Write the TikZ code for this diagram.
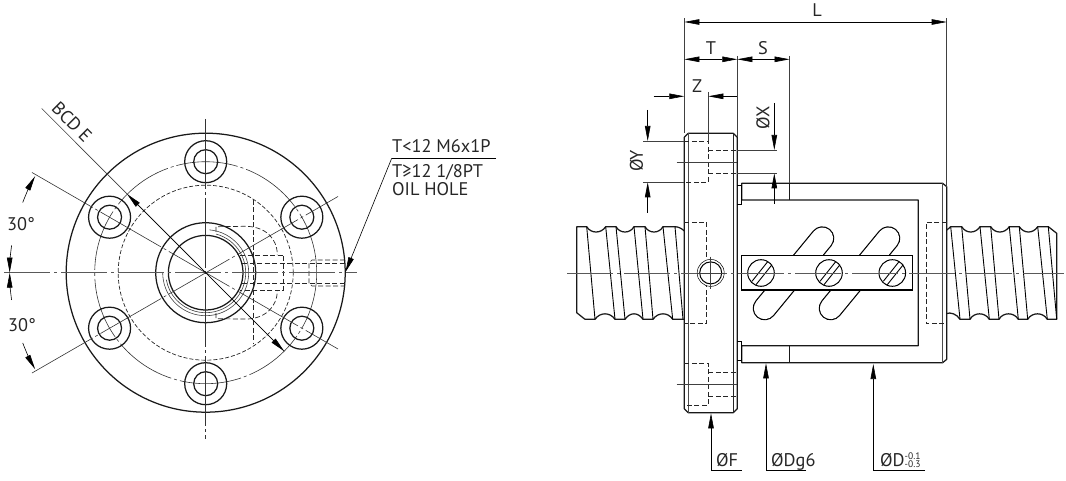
\documentclass[tikz,border=0pt]{standalone}
\usepackage{fontspec}
\setmainfont{PT Sans}
\usetikzlibrary{arrows.meta,calc}
\tikzset{
  x=1pt,y=-1pt,
  bold/.style={line width=1.25pt,black!90,line join=round},
  thinl/.style={line width=0.6pt,black!75},
  hid/.style={line width=0.7pt,black!85,dash pattern=on 5pt off 2.5pt},
  ctr/.style={line width=0.7pt,black!65,dash pattern=on 46pt off 4pt on 3pt off 4pt},
  rad/.style={line width=0.6pt,black!80,dash pattern=on 70pt off 3pt on 3pt off 3pt},
  bcd/.style={line width=0.6pt,black!80,dash pattern=on 62pt off 3pt on 3pt off 3pt},
  tip/.style={-{Triangle[length=15pt,width=5.5pt]}},
  pit/.style={{Triangle[length=15pt,width=5.5pt]}-},
  tiptip/.style={{Triangle[length=15pt,width=5.5pt]}-{Triangle[length=15pt,width=5.5pt]}},
  lab/.style={font=\fontsize{18.3}{20}\selectfont,inner sep=0pt,text=black!85},
}
\begin{document}
\begin{tikzpicture}
\useasboundingbox (0,0) rectangle (1066,481);
\coordinate (lc) at (205.7,272.7);
%% ---------- LEFT VIEW ----------
\draw[bold] (lc) circle (139.5pt);
\draw[bold] (lc) circle (50pt);
\draw[bold] (lc) circle (37.3pt);
\draw[bcd] (lc) circle (111pt);
\draw[line width=0.7pt,black!85,dash pattern=on 4pt off 2pt] (lc) circle (87.5pt);
\foreach \a in {90,150,210,270,330,30}{
  \draw[bold] ([shift={(\a:111pt)}]lc) circle (21pt);
  \draw[bold] ([shift={(\a:111pt)}]lc) circle (12pt);
}
% thin inner arcs
\draw[thinl] ([shift={(85:43pt)}]lc) arc[start angle=85,end angle=-180,radius=43pt];
\draw[thinl] ([shift={(75:40pt)}]lc) arc[start angle=75,end angle=-170,radius=40pt];
% hidden lines
\draw[hid] (216,232) -- (216,226.7) -- (245,226.3) .. controls (265,226.3) and (277.3,238) .. (277.3,255);
\draw[hid] (216,313) -- (216,318.7) -- (245,319.1) .. controls (265,319.1) and (277.3,307) .. (277.3,290.4);
\draw[hid] (240,255) -- (283.5,255) -- (283.5,290.4) -- (240,290.4);
\draw[hid] (242,263.3) -- (345,263.3);
\draw[hid] (242,283.3) -- (345,283.3);
\draw[hid] (253.3,200) -- (253.3,343);
\draw[hid] (345,260) -- (312,260) -- (309,263) -- (309,283) -- (312,286) -- (345,286);
% centre and radial lines
\draw[ctr] (4,272.7) -- (357,272.7);
\draw[rad] (205.7,119) -- (205.7,439);
\draw[rad] (32,172.5) -- (338,349);
\draw[rad] (32,373) -- (338,196.5);
% dimension BCD
\coordinate (bcdA) at ($(lc)+(135:111pt)$);
\coordinate (bcdB) at ($(lc)+(-45:111pt)$);
\draw[thinl] (41.7,108.5) -- (bcdB);
\draw[tip,thinl,black] (lc) -- (bcdA);
\draw[tip,thinl,black] (lc) -- (bcdB);
\node[lab,rotate=-45] (bcdtxt) at (72,122) {BCD E};
% 30 deg dims
\draw[tip,thinl,black] ([shift={(159:196pt)}]lc) arc[start angle=159,end angle=150.5,radius=196pt];
\draw[tip,thinl,black] ([shift={(172:196pt)}]lc) arc[start angle=172,end angle=180,radius=196pt];
\draw[tip,thinl,black] ([shift={(188:196pt)}]lc) arc[start angle=188,end angle=180,radius=196pt];
\draw[tip,thinl,black] ([shift={(201:196pt)}]lc) arc[start angle=201,end angle=209.5,radius=196pt];
\node[lab] (a30) at (21,224) {30°};
\node[lab] (b30) at (22,325) {30°};
% leader oil hole
\coordinate (lead) at (391.7,158.3);
\coordinate (leadend) at (496,158.3);
\coordinate (leadtip) at (345.5,272);
\draw[thinl,black] (leadend) -- (lead);
\draw[tip,thinl,black] (lead) -- (leadtip);
\node[lab,anchor=base west] (t1) at (392,152.5) {T<12 M6x1P};
\node[lab,anchor=base west] (t2) at (392,177.5) {T≥12 1/8PT};
\node[lab,anchor=base west] (t3) at (392,196) {OIL HOLE};
%% ---------- RIGHT VIEW ----------
% left thread
\draw[bold] (684.3,231) .. controls (682,228.5) and (678,226.7) .. (675,226.7) -- (663,226.7)
  .. controls (659,233.8) and (649,233.8) .. (645,226.7) -- (634,226.7)
  .. controls (630,233.8) and (620,233.8) .. (616,226.7) -- (605.7,226.7)
  .. controls (601,233.8) and (591,233.8) .. (586.7,226.7) -- (576.7,226.7) -- (576.7,312.7) -- (585,319.3) -- (595,319.3)
  .. controls (600,312) and (610,312) .. (615,319.3) -- (625,319.3)
  .. controls (630,312) and (638,312) .. (643,319.3) -- (653,319.3)
  .. controls (658,312) and (668,312) .. (672.7,319.3) -- (684.3,319.3);
\foreach \p/\q in {586.7/595,605.7/615,616/625,634/643,645/653,663/672.7,675/683}{
  \draw[line width=0.9pt,black] (\p,226.7) -- (\q,319.3);
}
% right thread
\draw[bold] (946.9,230) -- (950.7,226.7) -- (961.7,226.7)
  .. controls (966,233.8) and (975.5,233.8) .. (980,226.7) -- (990.7,226.7)
  .. controls (995,233.8) and (1004.5,233.8) .. (1009.3,226.7) -- (1019.3,226.7)
  .. controls (1024,233.8) and (1033,233.8) .. (1037.7,226.7) -- (1048.3,226.7)
  -- (1056.7,233.3) -- (1056.7,319.3) -- (1047.3,319.3)
  .. controls (1043,312) and (1032,312) .. (1027.7,319.3) -- (1018.3,319.3)
  .. controls (1014,312) and (1003,312) .. (999,319.3) -- (989.3,319.3)
  .. controls (985,312) and (974,312) .. (970,319.3) -- (960,319.3)
  .. controls (957,314) and (950,312) .. (946.9,313.5);
\foreach \p/\q in {950.7/960,961.7/970,980/989.3,990.7/999,1009.3/1018.3,1019.3/1027.7,1037.7/1047.3,1048.3/1056.7}{
  \draw[line width=0.9pt,black] (\p,226.7) -- (\q,319.3);
}
% flange
\draw[bold] (684.3,137.3) -- (688.3,133.3) -- (733.3,133.3) -- (737.3,137.3) -- (737.3,408.7) -- (733.3,412.7) -- (688.3,412.7) -- (684.3,408.7) -- cycle;
\draw[line width=0.8pt,black!70] (688.3,133.3) -- (688.3,412.7);
\draw[line width=0.8pt,black!85] (732.9,133.3) -- (732.9,412.7);
% nut
\draw[bold] (741.7,183.3) -- (942.7,183.3) -- (946.7,186.7) -- (946.7,359.3) -- (942.7,362.7) -- (741.7,362.7) -- (741.7,345.7) -- (918.3,345.7) -- (918.3,200) -- (741.7,200) -- cycle;
\draw[line width=0.8pt,black!70] (942.2,183.3) -- (942.2,362.7);
\draw[bold,line width=0.9pt] (789.5,183.3) -- (789.5,200);
\draw[bold,line width=0.9pt] (789.5,345.7) -- (789.5,362.7);
\draw[line width=0.8pt] (737.3,185) -- (741.7,185) -- (741.7,204) -- (737.3,204);
\draw[line width=0.8pt] (737.3,341.7) -- (741.7,341.7) -- (741.7,360.7) -- (737.3,360.7);
% return tube slots
\foreach \dx in {0,66}{
  \draw[line width=24pt,line cap=round,black] (764.7+\dx,308.3) -- (822.3+\dx,238.3);
  \draw[line width=21.6pt,line cap=round,white] (764.7+\dx,308.3) -- (822.3+\dx,238.3);
}
% plate
\draw[line width=1.2pt,black,fill=white] (741.7,255.7) rectangle (912.7,290);
\foreach \cx in {761,829,892.3}{
  \draw[line width=1pt,black,fill=white] (\cx,273) circle (13.3pt);
  \draw[line width=0.9pt] (\cx-9,281.3) -- (\cx+7,261.3);
  \draw[line width=0.9pt] (\cx-5,284.7) -- (\cx+11,264.7);
}
% hidden in flange
\draw[hid] (684.3,141) -- (708.3,141) -- (708.3,182.3) -- (684.3,182.3);
\draw[hid] (708.3,150) -- (737.3,150);
\draw[hid] (708.3,173.3) -- (737.3,173.3);
\draw[hid] (684.3,363.3) -- (708.3,363.3) -- (708.3,405) -- (684.3,405);
\draw[hid] (708.3,372.3) -- (737.3,372.3);
\draw[hid] (708.3,396) -- (737.3,396);
\draw[hid] (684.3,222.3) -- (706.7,222.3) -- (706.7,323.3) -- (684.3,323.3);
\draw[hid] (946.7,222.3) -- (926,222.3) -- (926,323.3) -- (946.7,323.3);
% centre lines
\draw[ctr] (567,272.9) -- (1064,272.9);
\draw[thinl] (676.7,162) -- (737,162);
\draw[thinl] (676.7,384.3) -- (737,384.3);
% plug circle
\draw[line width=0.5pt,fill=white] (710.7,272.9) circle (13.5pt);
\draw[line width=1pt] (710.7,272.9) circle (11pt);
\draw[thinl] (710.7,256.7) -- (710.7,289);
\draw[thinl] (697,272.9) -- (724,272.9);
% extensions
\coordinate (e1t) at (684.3,18.5);
\coordinate (e1b) at (684.3,133.3);
\coordinate (e2t) at (946.7,18.5);
\coordinate (e2b) at (946.7,186.7);
\coordinate (e3t) at (737.3,56);
\coordinate (e3b) at (737.3,137);
\coordinate (e4t) at (789.6,56);
\coordinate (e4b) at (789.6,183.3);
\coordinate (e5t) at (708.3,92);
\coordinate (e5b) at (708.3,141);
\draw[thinl] (e1t) -- (e1b);
\draw[thinl] (e2t) -- (e2b);
\draw[thinl] (e3t) -- (e3b);
\draw[thinl] (e4t) -- (e4b);
\draw[thinl] (e5t) -- (e5b);
% L
\draw[tiptip,thinl,black] (684.3,22) -- (946.7,22);
\node[lab] (L) at (817,10) {L};
% T S
\draw[tiptip,thinl,black] (684.3,59.3) -- (737.3,59.3);
\draw[tiptip,thinl,black] (737.3,59.3) -- (789.6,59.3);
\node[lab] (T) at (711,48) {T};
\node[lab] (S) at (763,48) {S};
% Z
\draw[tip,thinl,black] (653.7,96.3) -- (684.3,96.3);
\draw[pit,thinl,black] (708.3,96.3) -- (737.3,96.3);
\node[lab] (Z) at (697,86.5) {Z};
% ØX
\draw[tip,thinl,black] (774.3,103) -- (774.3,150);
\draw[tip,thinl,black] (774.3,204) -- (774.3,173.3);
\draw[thinl] (737.3,150) -- (777.3,150);
\draw[thinl] (737.3,173.3) -- (777.3,173.3);
\node[lab,rotate=90] (X) at (763,118) {ØX};
% ØY
\draw[tip,thinl,black] (647.7,110) -- (647.7,141);
\draw[tip,thinl,black] (647.7,213) -- (647.7,182.3);
\draw[thinl] (643,141) -- (684.3,141);
\draw[thinl] (643,182.3) -- (684.3,182.3);
\node[lab,rotate=90] (Y) at (636.5,161) {ØY};
% ØF ØDg6 ØD
\draw[tip,thinl,black] (741.7,470) -- (711,470) -- (711,413.3);
\node[lab,anchor=base west] (F) at (716,466) {ØF};
\draw[tip,thinl,black] (806,470) -- (766,470) -- (766,363.3);
\node[lab,anchor=base west] (Dg) at (771,466) {ØDg6};
\draw[tip,thinl,black] (925,470) -- (873.3,470) -- (873.3,364);
\node[lab,anchor=base west] (D) at (880,466) {ØD{\fontsize{9.5}{9.5}\selectfont\rlap{\raisebox{6.5pt}{-0.1}}\raisebox{-1pt}{-0.3}}};
\end{tikzpicture}
\end{document}
